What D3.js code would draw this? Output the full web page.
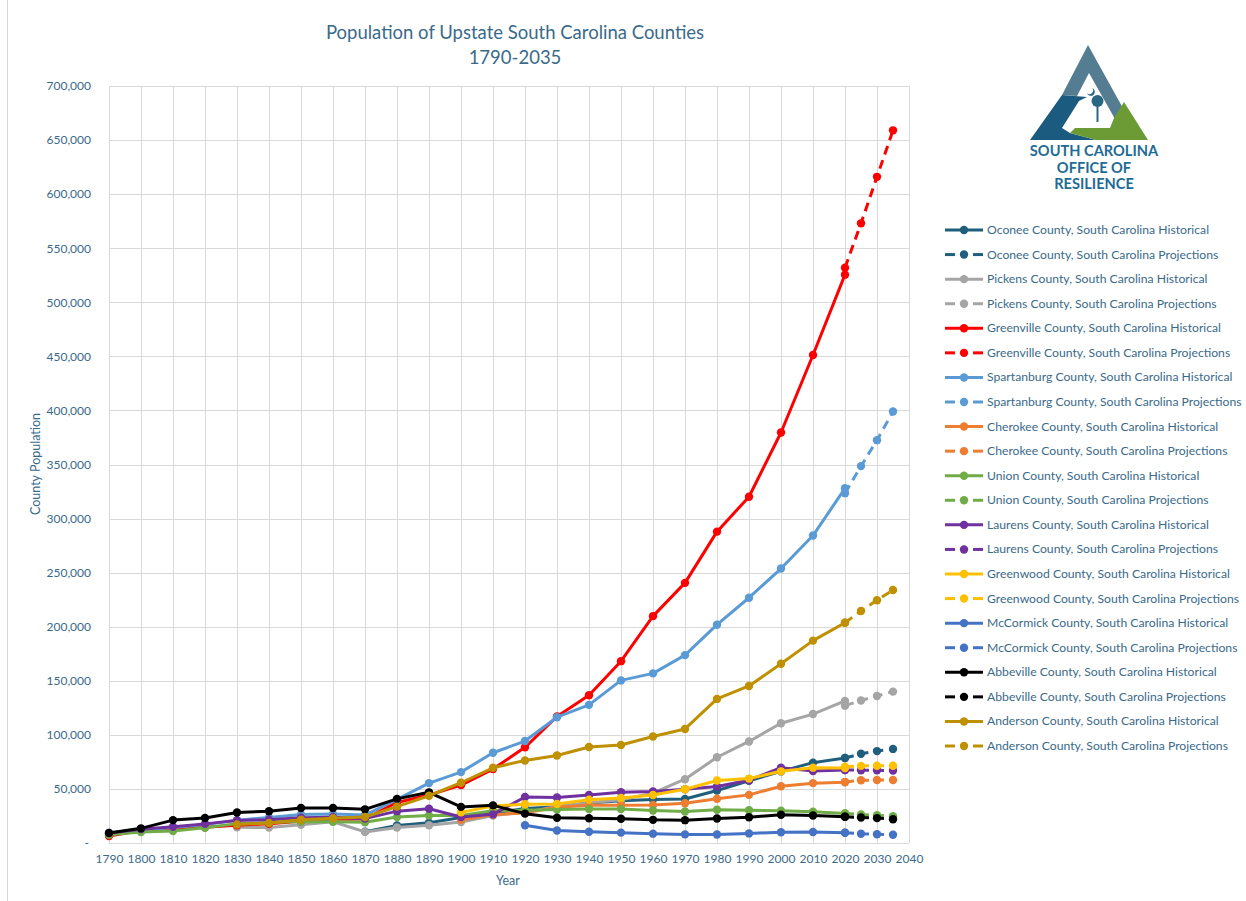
<!DOCTYPE html>
<html>
<head>
<meta charset="utf-8">
<script src="https://cdn.jsdelivr.net/npm/d3@7"></script>
<style>
  body { margin: 0; background: #fff; }
  svg { display: block; font-family: "Lato", "Open Sans", sans-serif; }
</style>
</head>
<body>
<svg id="chart" width="1246" height="901"></svg>
<script>
// census years and projection years
var histYears = [1790, 1800, 1810, 1820, 1830, 1840, 1850, 1860, 1870, 1880, 1890, 1900,
  1910, 1920, 1930, 1940, 1950, 1960, 1970, 1980, 1990, 2000, 2010, 2020];
var projYears = [2020, 2025, 2030, 2035];

var yTicks = [0, 50000, 100000, 150000, 200000, 250000, 300000, 350000, 400000, 450000, 500000, 550000, 600000, 650000, 700000];
var xTicks = [1790, 1800, 1810, 1820, 1830, 1840, 1850, 1860, 1870, 1880, 1890, 1900, 1910,
  1920, 1930, 1940, 1950, 1960, 1970, 1980, 1990, 2000, 2010, 2020, 2030, 2040];

var N = null;
var oconeeHist = [N, N, N, N, N, N, N, N, 10536, 16256, 18687, 23634, 27337, 32000, 33500, 37000, 39000, 40200, 40700, 48600, 57500, 66200, 74300, 78600];
var oconeeProj = [78600, 82500, 85000, 87000];
var pickensHist = [N, N, N, N, 14473, 14356, 16904, 19639, 10269, 14389, 16389, 19375, 25422, 28329, 33709, 37111, 40058, 46030, 58956, 79292, 93894, 110757, 119224, 131404];
var pickensProj = [127000, 131800, 136000, 140000];
var greenvilleHist = [6503, 11504, 13133, 14530, 16476, 17839, 20156, 21892, 22262, 37496, 44310, 53490, 68377, 88498, 117009, 136580, 168152, 209776, 240546, 287913, 320167, 379616, 451225, 525534];
var greenvilleProj = [532000, 573000, 616000, 659000];
var spartanburgHist = [8800, 12122, 14259, 16989, 21150, 23669, 26400, 26919, 25784, 40409, 55385, 65560, 83465, 94265, 116323, 127733, 150349, 156830, 173724, 201861, 226800, 253791, 284307, 327997];
var spartanburgProj = [323500, 348500, 372500, 399000];
var cherokeeHist = [N, N, N, N, N, N, N, N, N, N, N, 21359, 26179, 28000, 33018, 34992, 34992, 35205, 36791, 40983, 44506, 52537, 55342, 56216];
var cherokeeProj = [56500, 58000, 58200, 58300];
var unionHist = [7693, 10237, 10995, 14126, 17906, 18936, 19852, 19635, 19248, 24080, 25363, 25501, 29911, 30372, 30920, 31360, 31334, 30015, 29133, 30751, 30337, 29881, 28961, 27244];
var unionProj = [27244, 26300, 25600, 24800];
var laurensHist = [9337, 12809, 14982, 17682, 20863, 21584, 23407, 23858, 22536, 29444, 31610, 24000, 26500, 42560, 42094, 44323, 46974, 47609, 49713, 52214, 58092, 69567, 66537, 67539];
var laurensProj = [67539, 67300, 67200, 67000];
var greenwoodHist = [N, N, N, N, N, N, N, N, N, N, N, 28343, 34225, 35791, 36000, 40083, 41628, 44346, 49686, 57847, 59567, 66271, 69661, 69351];
var greenwoodProj = [70500, 71300, 71500, 71500];
var mccormickHist = [N, N, N, N, N, N, N, N, N, N, N, N, N, 16444, 11500, 10367, 9577, 8629, 7955, 7797, 8868, 9958, 10233, 9526];
var mccormickProj = [9526, 8600, 8100, 7600];
var abbevilleHist = [9197, 13553, 21156, 23167, 28149, 29351, 32318, 32385, 31129, 40815, 46854, 33400, 34804, 27139, 23323, 22931, 22456, 21417, 21112, 22627, 23862, 26167, 25417, 24295];
var abbevilleProj = [24295, 23600, 23000, 22000];
var andersonHist = [N, N, N, N, 17169, 18493, 21475, 22873, 24049, 33612, 43696, 55728, 69568, 76349, 80949, 88712, 90664, 98478, 105474, 133235, 145196, 165740, 187126, 203718];
var andersonProj = [203718, 214500, 224500, 234000];

var seriesNames = [
  "Oconee County, South Carolina Historical", "Oconee County, South Carolina Projections",
  "Pickens County, South Carolina Historical", "Pickens County, South Carolina Projections",
  "Greenville County, South Carolina Historical", "Greenville County, South Carolina Projections",
  "Spartanburg County, South Carolina Historical", "Spartanburg County, South Carolina Projections",
  "Cherokee County, South Carolina Historical", "Cherokee County, South Carolina Projections",
  "Union County, South Carolina Historical", "Union County, South Carolina Projections",
  "Laurens County, South Carolina Historical", "Laurens County, South Carolina Projections",
  "Greenwood County, South Carolina Historical", "Greenwood County, South Carolina Projections",
  "McCormick County, South Carolina Historical", "McCormick County, South Carolina Projections",
  "Abbeville County, South Carolina  Historical", "Abbeville County, South Carolina Projections",
  "Anderson County, South Carolina Historical", "Anderson County, South Carolina Projections"
];
var seriesValues = [oconeeHist, oconeeProj, pickensHist, pickensProj, greenvilleHist, greenvilleProj,
  spartanburgHist, spartanburgProj, cherokeeHist, cherokeeProj, unionHist, unionProj,
  laurensHist, laurensProj, greenwoodHist, greenwoodProj, mccormickHist, mccormickProj,
  abbevilleHist, abbevilleProj, andersonHist, andersonProj];
var countyColors = ["#1F5F7D", "#A5A5A5", "#FF0000", "#5B9BD5", "#ED7D31", "#70AD47",
  "#7030A0", "#FFC000", "#4472C4", "#000000", "#BF9000"];

var textColor = "#3A6A8A";
var gridColor = "#D9D9D9";

var svg = d3.select("#chart");

// outer chart border (bottom runs off the picture)
svg.append("rect")
  .attr("x", 7.5).attr("y", -1).attr("width", 1240).attr("height", 910)
  .attr("fill", "none").attr("stroke", gridColor);

var x = d3.scaleLinear().domain([1790, 2040]).range([109, 909]);
var y = d3.scaleLinear().domain([0, 700000]).range([843, 86]);

// gridlines
var grid = svg.append("g");
grid.selectAll(".hg").data(yTicks).enter().append("line")
  .attr("x1", x(1790)).attr("x2", x(2040))
  .attr("y1", function(d) { return Math.round(y(d)) + 0.5; })
  .attr("y2", function(d) { return Math.round(y(d)) + 0.5; })
  .attr("stroke", gridColor).attr("stroke-width", 1);
grid.selectAll(".vg").data(xTicks).enter().append("line")
  .attr("y1", y(700000)).attr("y2", y(0))
  .attr("x1", function(d) { return Math.round(x(d)) + 0.5; })
  .attr("x2", function(d) { return Math.round(x(d)) + 0.5; })
  .attr("stroke", gridColor).attr("stroke-width", 1);

// axes (labels only)
var yAxis = svg.append("g")
  .attr("transform", "translate(" + (x(1790) - 15) + ",0)")
  .call(d3.axisLeft(y).tickValues(yTicks).tickSize(0)
    .tickFormat(function(d) { return d === 0 ? "-" : d3.format(",")(d); }));
yAxis.select(".domain").remove();
yAxis.selectAll("text").attr("fill", textColor).style("font-size", "12px")
  .style("font-family", "Lato, sans-serif");
yAxis.selectAll("text").filter(function(d) { return d === 0; }).attr("x", -5);

var xAxis = svg.append("g")
  .attr("transform", "translate(0," + (y(0) + 8) + ")")
  .call(d3.axisBottom(x).tickValues(xTicks).tickSize(0).tickFormat(d3.format("d")));
xAxis.select(".domain").remove();
xAxis.selectAll("text").attr("fill", textColor).style("font-size", "12px")
  .style("font-family", "Lato, sans-serif");

svg.append("text").attr("x", 508).attr("y", 885).attr("text-anchor", "middle")
  .attr("fill", textColor).style("font-size", "12.5px").text("Year");
svg.append("text").attr("transform", "translate(40,464) rotate(-90)")
  .attr("text-anchor", "middle").attr("fill", textColor).style("font-size", "12.5px")
  .text("County Population");

// title
svg.append("text").attr("x", 515).attr("y", 39).attr("text-anchor", "middle")
  .attr("fill", textColor).style("font-size", "18.5px").text("Population of Upstate South Carolina Counties");
svg.append("text").attr("x", 515).attr("y", 64).attr("text-anchor", "middle")
  .attr("fill", textColor).style("font-size", "18.5px").text("1790-2035");

// series
var series = seriesNames.map(function(name, i) {
  var proj = i % 2 === 1;
  var yrs = proj ? projYears : histYears;
  return {
    name: name,
    color: countyColors[Math.floor(i / 2)],
    proj: proj,
    points: seriesValues[i].map(function(v, j) { return { year: yrs[j], v: v }; })
      .filter(function(p) { return p.v != null; })
  };
});

var line = d3.line()
  .x(function(d) { return x(d.year); })
  .y(function(d) { return y(d.v); });

var marks = svg.append("g");
series.forEach(function(s) {
  var g = marks.append("g");
  g.append("path")
    .attr("d", line(s.points))
    .attr("fill", "none")
    .attr("stroke", s.color)
    .attr("stroke-width", 3)
    .attr("stroke-linejoin", "round")
    .attr("stroke-dasharray", s.proj ? "9,6" : null);
  g.selectAll("circle").data(s.points).enter().append("circle")
    .attr("cx", function(d) { return x(d.year); })
    .attr("cy", function(d) { return y(d.v); })
    .attr("r", 4.2)
    .attr("fill", s.color);
});

// legend
var legend = svg.append("g");
var legY = d3.scaleLinear().domain([0, 21]).range([230, 746]);
series.forEach(function(s, i) {
  var g = legend.append("g").attr("transform", "translate(0," + legY(i) + ")");
  if (s.proj) {
    g.append("line").attr("x1", 945).attr("x2", 955).attr("y1", 0).attr("y2", 0)
      .attr("stroke", s.color).attr("stroke-width", 3);
    g.append("line").attr("x1", 973).attr("x2", 983).attr("y1", 0).attr("y2", 0)
      .attr("stroke", s.color).attr("stroke-width", 3);
  } else {
    g.append("line").attr("x1", 945).attr("x2", 983).attr("y1", 0).attr("y2", 0)
      .attr("stroke", s.color).attr("stroke-width", 3);
  }
  g.append("circle").attr("cx", 964).attr("cy", 0).attr("r", 4.2).attr("fill", s.color);
  g.append("text").attr("x", 987).attr("y", 4).attr("fill", textColor)
    .style("font-size", "12.2px").text(s.name);
});

// logo
var logo = svg.append("g");
logo.append("polygon").attr("fill", "#557D91")
  .attr("points", "1088,45 1124,110 1115,119 1089,73 1077,96 1062,95");
logo.append("polygon").attr("fill", "#1B5B80")
  .attr("points", "1062,95 1087,97 1079,101 1062,128 1070,133 1096,140 1030,140");
logo.append("polygon").attr("fill", "#6C9A35")
  .attr("points", "1124,102 1148,140 1096,140 1070,133 1075,128 1110,128 1114,118");
// palmetto and crescent
logo.append("rect").attr("x", 1096.5).attr("y", 100).attr("width", 2).attr("height", 22).attr("fill", "#2A6784");
logo.append("circle").attr("cx", 1097.5).attr("cy", 101).attr("r", 6).attr("fill", "#2A6784");
logo.append("path").attr("d", "M1087,93 a4,4 0 1,0 5,-5 a3,3 0 1,1 -5,5z").attr("fill", "#2A6784");
var logoText = ["SOUTH CAROLINA", "OFFICE OF", "RESILIENCE"];
logo.selectAll("text").data(logoText).enter().append("text")
  .attr("x", 1094).attr("y", function(d, i) { return 156 + i * 16.5; })
  .attr("text-anchor", "middle").attr("fill", "#1F6B95")
  .style("font-size", "14.6px").style("font-weight", "bold").text(function(d) { return d; });
</script>
</body>
</html>
